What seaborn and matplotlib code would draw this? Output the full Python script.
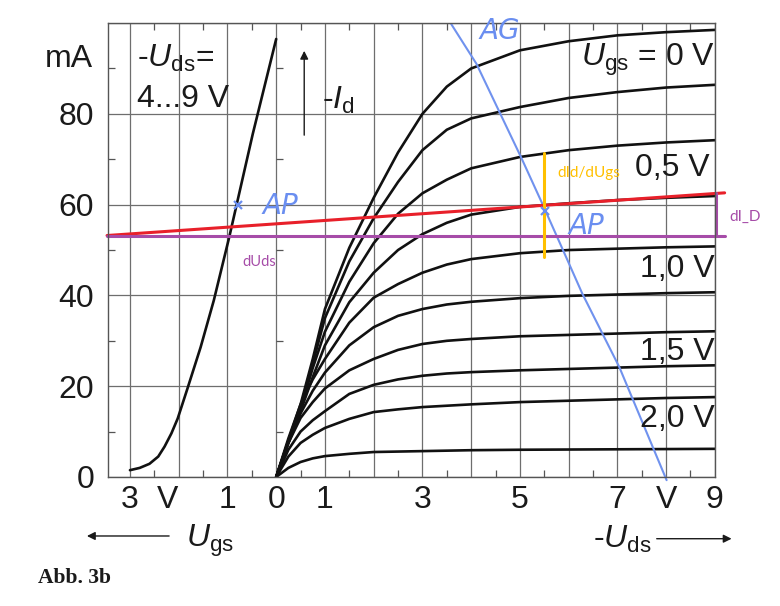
import numpy as np
import pandas as pd
import seaborn as sns
import matplotlib.pyplot as plt

# output characteristics: -Id (mA) over -Uds (V), one curve per Ugs step
uds = [0, 0.25, 0.5, 0.75, 1, 1.5, 2, 2.5, 3, 3.5, 4, 5, 6, 7, 8, 9]
ugs_steps = [0.0, 0.25, 0.5, 0.75, 1.0, 1.25, 1.5, 1.75, 2.0, 2.25]
id_curves = [
    [0, 8.0, 16, 26, 37, 50.5, 61.5, 71.5, 80, 86, 90, 94, 96, 97.3, 98, 98.5],
    [0, 8.0, 15.5, 25, 35, 47.5, 57, 65, 72, 76.5, 79, 81.5, 83.5, 84.8, 85.8, 86.4],
    [0, 7.8, 15, 24, 32, 43, 51.5, 58, 62.5, 65.5, 68, 70.5, 72, 73, 73.7, 74.2],
    [0, 7.5, 14.5, 22, 29, 38.5, 45, 50, 53.5, 56, 57.8, 59.5, 60.3, 61, 61.5, 61.9],
    [0, 8.5, 16, 21.5, 26, 34, 39.5, 42.5, 45, 46.8, 48, 49.3, 50, 50.3, 50.6, 50.8],
    [0, 7.5, 14, 19, 23, 29, 33, 35.5, 37, 38, 38.6, 39.4, 39.9, 40.2, 40.5, 40.7],
    [0, 7.5, 13, 16.5, 19.5, 23.5, 26, 28, 29.3, 30, 30.4, 31, 31.3, 31.6, 31.9, 32.1],
    [0, 6.0, 10, 12.5, 14.5, 18.3, 20.3, 21.5, 22.3, 22.8, 23.1, 23.5, 23.8, 24.1, 24.4, 24.6],
    [0, 4.5, 7.5, 9.3, 10.8, 12.8, 14.3, 14.9, 15.4, 15.7, 16, 16.5, 16.8, 17.1, 17.4, 17.6],
    [0, 2.0, 3.3, 4.1, 4.6, 5.1, 5.5, 5.6, 5.7, 5.8, 5.9, 6.0, 6.05, 6.1, 6.15, 6.2],
]

# transfer characteristic: -Id over Ugs (drawn to the left of 0)
ugs_tr = [3.0, 2.8, 2.6, 2.42, 2.29, 2.15, 2.02, 1.82, 1.55, 1.28, 0.96, 0.48, 0.0]
id_tr = [1.5, 2.0, 2.9, 4.5, 6.7, 9.6, 12.9, 19.5, 28.6, 38.9, 53, 75.6, 96.5]

# tick labels
x_ticks = list(range(-3, 10))
x_labels = ['3', '', '1', '0', '1', '', '3', '', '5', '', '7', 'V', '9']
y_ticks = [0, 20, 40, 60, 80, 100]
y_labels = ['0', '20', '40', '60', '80', '']

# hand-drawn annotations
ag_x = [3.59, 4.11, 5.03, 5.46, 5.95, 6.28, 7.04, 8.01]
ag_y = [99.8, 91.0, 70.3, 60.2, 48.4, 40.4, 24.2, -0.7]
red_x = [-3.47, 9.2]
red_y = [53.2, 62.6]
purple_y = 53.1
purple_vx = 9.03
orange_x = 5.5
orange_y = [48.4, 71.4]
ap_x = [-0.78, 5.52]
ap_y = [60, 58.7]

rows = []
for ugs, vals in zip(ugs_steps, id_curves):
    for u, i in zip(uds, vals):
        rows.append({'Ugs': ugs, 'Uds': u, 'Id': i})
df = pd.DataFrame(rows)

sns.set_theme(style='white')
plt.rcParams['font.family'] = ['Liberation Sans', 'DejaVu Sans']
plt.rcParams['mathtext.fontset'] = 'custom'
plt.rcParams['mathtext.rm'] = 'Liberation Sans'
plt.rcParams['mathtext.it'] = 'Liberation Sans:italic'

fig = plt.figure(figsize=(7.8, 6.06), dpi=100)
ax = fig.add_axes([0.1385, 0.2129, 0.778, 0.749])

sns.lineplot(data=df, x='Uds', y='Id', units='Ugs', estimator=None,
             color='#111111', lw=1.9, ax=ax)
sns.lineplot(x=[-u for u in ugs_tr], y=id_tr, color='#111111', lw=1.9, ax=ax)

ax.set_xlim(-3.45, 9)
ax.set_ylim(0, 100)
ax.set_xlabel('')
ax.set_ylabel('')
ax.set_xticks(x_ticks)
ax.set_xticklabels(x_labels)
ax.set_yticks(y_ticks)
ax.set_yticklabels(y_labels)
ax.set_xticks(np.arange(-2.5, 9, 1), minor=True)
ax.set_yticks([10, 30, 50, 70, 90], minor=True)
ax.tick_params(which='major', length=0, labelsize=23, colors='#1a1a1a')
ax.tick_params(axis='x', which='major', pad=6)
ax.tick_params(axis='y', which='major', pad=10)
ax.tick_params(which='minor', direction='in', length=5, width=0.9,
               color='#555555', top=True, bottom=True, left=True)
ax.grid(True, which='major', color='#6e6e6e', lw=0.9)
for s in ax.spines.values():
    s.set_color('#555555')
    s.set_linewidth(1.0)
ax.hlines([10, 30, 50, 70, 90], 0, 0.13, color='#555555', lw=0.9)
# unit "V" next to the Ugs scale sits a little right of the -2 gridline
ax.text(-2.22, -0.0183, 'V', transform=ax.get_xaxis_transform(), ha='center',
        va='top', fontsize=23, color='#1a1a1a')

# coloured construction lines
ax.plot(ag_x, ag_y, color='#7092ee', lw=1.5, clip_on=False)
ax.plot(red_x, red_y, color='#e8202a', lw=2.2, clip_on=False)
ax.plot([red_x[0], red_x[1]], [purple_y, purple_y], color='#a64ca8', lw=2.2, clip_on=False)
red_at_v = red_y[0] + (red_y[1] - red_y[0]) * (purple_vx - red_x[0]) / (red_x[1] - red_x[0])
ax.plot([purple_vx, purple_vx], [purple_y, red_at_v], color='#a64ca8', lw=2.2, clip_on=False)
ax.plot([orange_x, orange_x], orange_y, color='#ffc000', lw=2.2)
ax.plot(ap_x, ap_y, 'x', color='#6a8ef0', ms=6, mew=1.6)

hand = dict(color='#6a8ef0', fontsize=20, style='italic', family='DejaVu Sans')
ax.text(4.17, 96.5, 'AG', clip_on=False, **hand)
ax.text(6.0, 53.5, 'AP', **hand)
ax.text(-0.29, 58.0, 'AP', **hand)

note = dict(family=['Lato', 'DejaVu Sans'])
ax.text(5.77, 66, 'dId/dUgs', color='#ffc000', fontsize=11, **note)
ax.text(9.3, 56.5, 'dI_D', color='#a64ca8', fontsize=11, clip_on=False, **note)
ax.text(-0.7, 46.4, 'dUds', color='#a64ca8', fontsize=10.5, **note)

# printed labels
big = dict(fontsize=23, color='#1a1a1a')
ax.text(-2.85, 90.3, r'-$U_{\mathrm{ds}}$=', **big)
ax.text(-2.85, 81.5, '4...9 V', **big)
ax.text(-3.75, 90.3, 'mA', ha='right', clip_on=False, **big)
ax.annotate('', xy=(0.575, 94.5), xytext=(0.575, 74.7),
            arrowprops=dict(arrowstyle='-|>', color='#1a1a1a', lw=1.0, mutation_scale=12))
ax.text(0.95, 81, r'-$I_{\mathrm{d}}$', **big)
ax.text(9.0, 90.5, r'$U_{\mathrm{gs}}$ = 0 V', ha='right', **big)
ax.text(8.9, 66.4, '0,5 V', ha='right', **big)
ax.text(9.0, 44.0, '1,0 V', ha='right', **big)
ax.text(9.0, 25.7, '1,5 V', ha='right', **big)
ax.text(9.0, 11.0, '2,0 V', ha='right', **big)

ax.text(-1.85, -15.4, r'$U_{\mathrm{gs}}$', clip_on=False, **big)
ax.annotate('', xy=(-3.94, -13.0), xytext=(-2.14, -13.0), annotation_clip=False,
            arrowprops=dict(arrowstyle='-|>', color='#1a1a1a', lw=1.0, mutation_scale=12))
ax.text(6.49, -15.6, r'-$U_{\mathrm{ds}}$', clip_on=False, **big)
ax.annotate('', xy=(9.4, -13.6), xytext=(7.75, -13.6), annotation_clip=False,
            arrowprops=dict(arrowstyle='-|>', color='#1a1a1a', lw=1.0, mutation_scale=12))

fig.text(0.049, 0.038, 'Abb. 3b', family='Liberation Serif', fontweight='bold',
         fontsize=15.5, color='#1a1a1a')

fig.savefig('out.png', dpi=100)
